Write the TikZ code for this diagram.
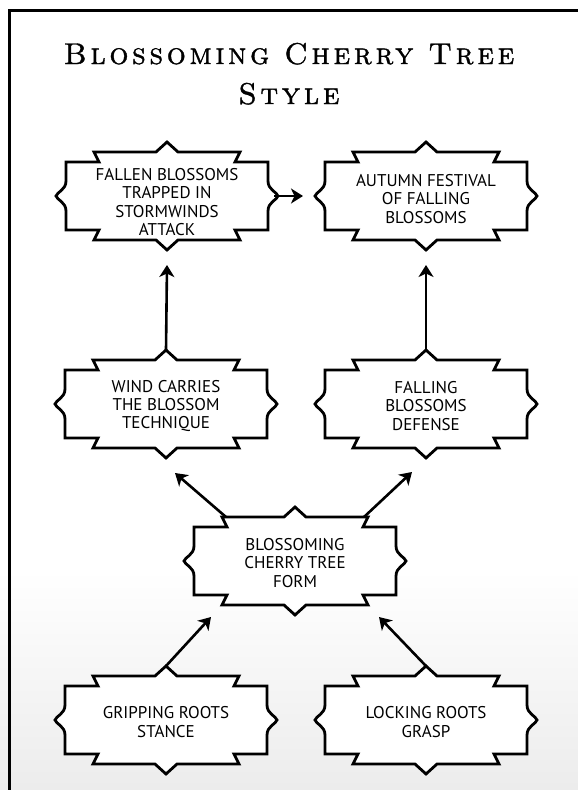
\documentclass[tikz,border=0pt]{standalone}
\usepackage{fontspec}
\newfontfamily\titlefont[Extension=.otf,LetterSpace=12,FakeBold=1.2]{lmromancaps10-regular}
\newfontfamily\nodefont{PT Sans}
\usetikzlibrary{calc,arrows.meta}
\definecolor{bggray}{gray}{0.925}
\tikzset{
  banner/.style={draw=black, fill=white, line width=2.8pt, line join=miter},
  box/.style={rectangle, minimum width=202pt, minimum height=68pt, inner sep=0pt, outer sep=0pt},
  txt/.style={align=center, inner sep=0pt, font=\nodefont\fontsize{17}{18.4}\selectfont},
  ttl/.style={anchor=base, inner sep=0pt, font=\titlefont\fontsize{30}{36}\selectfont},
  arr/.style={line width=2.6pt, -{Stealth[length=12pt,width=15pt,inset=3.5pt]}},
}
\newcommand\bannershape{(-101,-34) -- (-68,-34) -- (-73,-44) -- (-11,-44) -- (0,-54) -- (11,-44) -- (73,-44) -- (68,-34) -- (101,-34)
  -- (101,-15) .. controls (101,-6) and (110,-4) .. (111,0) .. controls (110,4) and (101,6) .. (101,15) -- (101,34)
  -- (68,34) -- (73,44) -- (11,44) -- (0,54) -- (-11,44) -- (-73,44) -- (-68,34) -- (-101,34)
  -- (-101,15) .. controls (-101,6) and (-110,4) .. (-111,0) .. controls (-110,-4) and (-101,-6) .. (-101,-15) -- cycle}
\newcommand\mkbanner[4]{%
  \begin{scope}[shift={(#2)}]\draw[banner] \bannershape;\end{scope}
  \node[box] (#1) at (#2) {};
  \node[txt] (#1t) at ([yshift=-#4pt]#1.center) {#3};}
\begin{document}
\begin{tikzpicture}[x=1pt,y=-1pt]
\useasboundingbox (0,0) rectangle (578,790);
\shade[top color=white, bottom color=bggray] (0,570) rectangle (578,790);
\fill[white] (0,0) rectangle (578,570);
\draw[line width=2.5pt] (9.5,10.5) rectangle (600,820);
\node[ttl] (title) at (289,64) {Blossoming Cherry Tree};
\node[ttl] (title2) at (289,104) {Style};
\mkbanner{n1}{167,196}{FALLEN BLOSSOMS\\TRAPPED IN\\STORMWINDS\\ATTACK}{6}
\mkbanner{n2}{426,196}{AUTUMN FESTIVAL\\OF FALLING\\BLOSSOMS}{3}
\mkbanner{n3}{166,404}{WIND CARRIES\\THE BLOSSOM\\TECHNIQUE}{2}
\mkbanner{n4}{426,404}{FALLING\\BLOSSOMS\\DEFENSE}{2}
\mkbanner{n5}{295,561}{BLOSSOMING\\CHERRY TREE\\FORM}{2}
\mkbanner{n6}{166,720}{GRIPPING ROOTS\\STANCE}{2}
\mkbanner{n7}{426,720}{LOCKING ROOTS\\GRASP}{2}
\coordinate (e53) at (175,473);
\coordinate (e54) at (412,472);
\coordinate (e65) at (211,617);
\coordinate (e75) at (379,617);
\draw[arr] ([xshift=6pt]n1.east) -- ([xshift=-22pt]n2.west);
\draw[arr] ([yshift=20pt]n3.north) -- ([yshift=-35pt]n1.south);
\draw[arr] ([yshift=20pt]n4.north) -- ([yshift=-35pt]n2.south);
\draw[arr] ([shift={(-69,-44)}]n5.center) -- (e53);
\draw[arr] ([shift={(69,-44)}]n5.center) -- (e54);
\draw[arr] ([yshift=20pt]n6.north) -- (e65);
\draw[arr] ([yshift=20pt]n7.north) -- (e75);
\end{tikzpicture}
\end{document}
